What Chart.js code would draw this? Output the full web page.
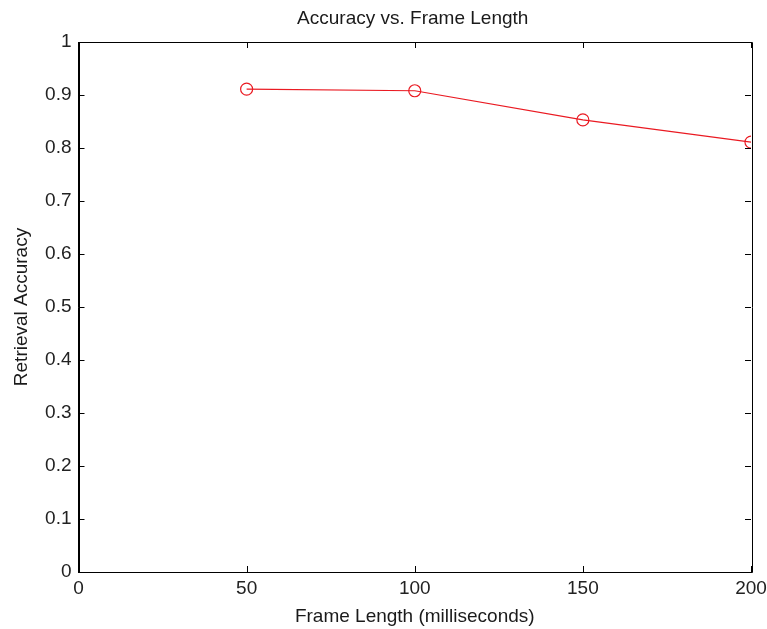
<!DOCTYPE html>
<html>
<head>
<meta charset="utf-8">
<script src="https://cdn.jsdelivr.net/npm/chart.js@4/dist/chart.umd.min.js"></script>
<style>
  html, body { margin: 0; padding: 0; background: #fff; }
  #wrap { width: 767px; height: 629px; }
</style>
</head>
<body>
<div id="wrap"><canvas id="chart" width="767" height="629"></canvas></div>
<script>
// frame length in ms and the accuracy
const frameLengths = [50, 100, 150, 200];
const accuracy = [0.911, 0.908, 0.853, 0.811];
const xTicks = [0, 50, 100, 150, 200];
const yTicks = [0, 0.1, 0.2, 0.3, 0.4, 0.5, 0.6, 0.7, 0.8, 0.9, 1];

const titleText = 'Accuracy vs. Frame Length';
const fontFamily = '"Liberation Sans", Arial, sans-serif';
const fontSize = 19;

// matlab style box + inward ticks + title centred over the axes
const matlabBox = {
    id: 'matlabBox',
    afterDraw(chart) {
        const ctx = chart.ctx;
        const a = chart.chartArea;
        const xs = chart.scales.x;
        const ys = chart.scales.y;
        const len = 6;
        ctx.save();
        ctx.strokeStyle = '#000';
        ctx.lineWidth = 1;
        ctx.beginPath();
        ctx.rect(Math.round(a.left) + 0.5, Math.round(a.top) + 0.5,
            Math.round(a.right - a.left), Math.round(a.bottom - a.top));
        xTicks.forEach(v => {
            const px = Math.round(xs.getPixelForValue(v)) + 0.5;
            ctx.moveTo(px, a.bottom); ctx.lineTo(px, a.bottom - len);
            ctx.moveTo(px, a.top); ctx.lineTo(px, a.top + len);
        });
        yTicks.forEach(v => {
            const py = Math.round(ys.getPixelForValue(v)) + 0.5;
            ctx.moveTo(a.left, py); ctx.lineTo(a.left + len, py);
            ctx.moveTo(a.right, py); ctx.lineTo(a.right - len, py);
        });
        ctx.stroke();

        ctx.fillStyle = '#1a1a1a';
        ctx.font = fontSize + 'px ' + fontFamily;
        ctx.textAlign = 'center';
        ctx.textBaseline = 'middle';
        ctx.fillText(titleText, (a.left + a.right) / 2 - 2, 19);
        ctx.restore();
    }
};

new Chart(document.getElementById('chart'), {
    type: 'line',
    data: {
        datasets: [{
            data: frameLengths.map((x, i) => ({ x: x, y: accuracy[i] })),
            borderColor: '#ea1a22',
            borderWidth: 1.2,
            pointStyle: 'circle',
            pointRadius: 6,
            pointBorderWidth: 1.2,
            pointBackgroundColor: 'rgba(0,0,0,0)',
            pointBorderColor: '#ea1a22',
            tension: 0,
            fill: false
        }]
    },
    plugins: [matlabBox],
    options: {
        responsive: false,
        animation: false,
        layout: { padding: { top: 42, right: 16, left: 0, bottom: 0 } },
        plugins: {
            legend: { display: false },
            tooltip: { enabled: false },
            title: { display: false }
        },
        scales: {
            x: {
                type: 'linear',
                min: 0,
                max: 200,
                afterBuildTicks: s => { s.ticks = xTicks.map(v => ({ value: v })); },
                afterFit: s => { s.height = 57; s.paddingLeft = 0; s.paddingRight = 0; },
                grid: { display: false, drawTicks: false },
                border: { display: true, color: '#000' },
                ticks: {
                    color: '#222',
                    padding: 5,
                    maxRotation: 0,
                    font: { family: fontFamily, size: fontSize }
                },
                title: {
                    display: true,
                    text: 'Frame Length (milliseconds)',
                    color: '#1a1a1a',
                    padding: { top: 0, bottom: 1 },
                    font: { family: fontFamily, size: fontSize }
                }
            },
            y: {
                type: 'linear',
                min: 0,
                max: 1,
                afterBuildTicks: s => { s.ticks = yTicks.map(v => ({ value: v })); },
                afterFit: s => { s.width = 78.5; s.paddingTop = 0; s.paddingBottom = 0; },
                grid: { display: false, drawTicks: false },
                border: { display: true, color: '#000' },
                ticks: {
                    color: '#222',
                    padding: 7,
                    font: { family: fontFamily, size: fontSize },
                    callback: v => String(Number(v.toFixed(1)))
                },
                title: {
                    display: true,
                    text: 'Retrieval Accuracy',
                    color: '#1a1a1a',
                    padding: { top: 10, bottom: 0 },
                    font: { family: fontFamily, size: fontSize }
                }
            }
        }
    }
});
</script>
</body>
</html>
